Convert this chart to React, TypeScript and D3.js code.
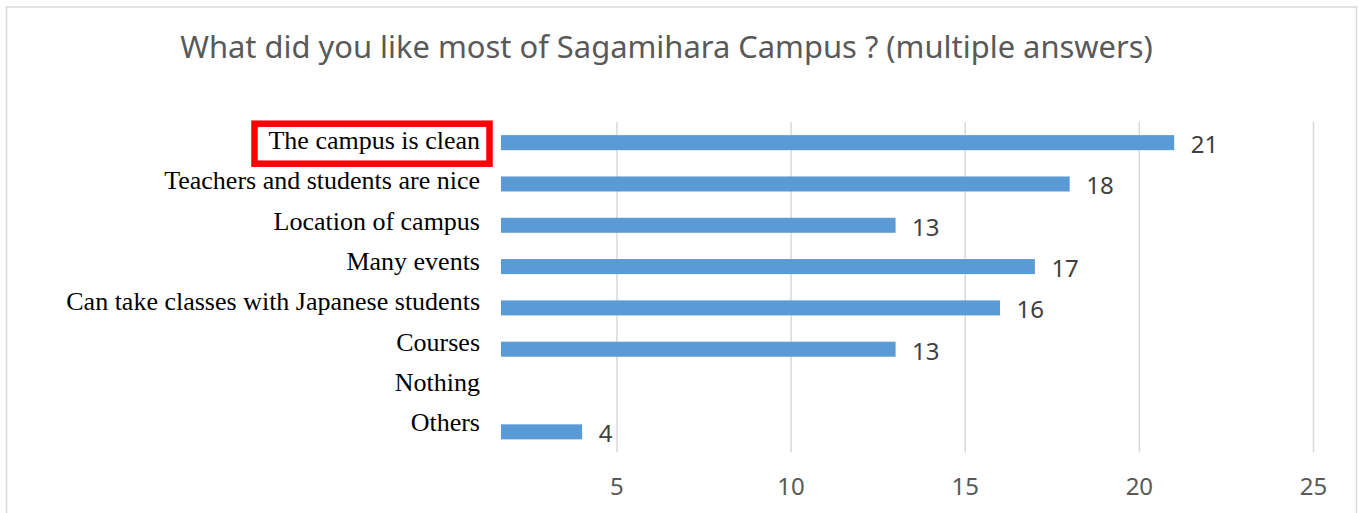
import React, { useEffect, useRef } from 'react';
import * as d3 from 'd3';

const W = 1359;
const H = 513;

const titleText = 'What did you like most of Sagamihara Campus ? (multiple answers)';
const categories = [
  'The campus is clean',
  'Teachers and students are nice',
  'Location of campus',
  'Many events',
  'Can take classes with Japanese students',
  'Courses',
  'Nothing',
  'Others'
];
const counts: (number | null)[] = [21, 18, 13, 17, 16, 13, null, 4];
const xTicks = [5, 10, 15, 20, 25];
const highlighted = 'The campus is clean';

const plot = { left: 501, right: 1313.5, top: 122, bottom: 452.5 };
const sans = '"Noto Sans", "DejaVu Sans", sans-serif';
const serif = '"Liberation Serif", "DejaVu Serif", serif';

export default function App() {
  const ref = useRef<SVGSVGElement>(null);

  useEffect(() => {
    const svg = d3.select(ref.current);
    svg.selectAll('*').remove();

    // chart frame (no bottom edge visible, runs past the picture)
    svg.append('rect')
      .attr('x', 6.5).attr('y', 7)
      .attr('width', 1350).attr('height', 540)
      .attr('fill', '#fff')
      .attr('stroke', '#d9d9d9').attr('stroke-width', 1.5);

    svg.append('text')
      .attr('x', 666.5).attr('y', 58)
      .attr('text-anchor', 'middle')
      .attr('font-family', sans)
      .attr('font-size', 30.9)
      .attr('fill', '#595959')
      .text(titleText);

    // axis min is not 0 in the original (bars start left of the 5 gridline)
    const x = d3.scaleLinear().domain([1.67, 25]).range([plot.left, plot.right]);
    const y = d3.scaleBand<string>()
      .domain(categories)
      .range([plot.top, plot.bottom])
      .paddingInner(0.636)
      .paddingOuter(0.318);
    // the category labels sit on a slightly tighter pitch than the bars
    const yLabel = d3.scalePoint<string>().domain(categories).range([140.3, 422.4]);

    const g = svg.append('g');

    g.selectAll('.grid').data(xTicks).enter().append('line')
      .attr('x1', d => x(d)).attr('x2', d => x(d))
      .attr('y1', plot.top).attr('y2', plot.bottom)
      .attr('stroke', '#d9d9d9').attr('stroke-width', 1.5);

    g.selectAll('.tick').data(xTicks).enter().append('text')
      .attr('x', d => x(d)).attr('y', 495)
      .attr('text-anchor', 'middle')
      .attr('font-family', sans).attr('font-size', 24)
      .attr('fill', '#595959')
      .text(d => d);

    const rows = categories.map((c, i) => ({ cat: c, v: counts[i] }));
    const withBars = rows.filter(d => d.v != null) as { cat: string; v: number }[];

    g.selectAll('.bar').data(withBars).enter().append('rect')
      .attr('x', x.range()[0])
      .attr('y', d => y(d.cat)!)
      .attr('width', d => x(d.v) - x.range()[0])
      .attr('height', y.bandwidth())
      .attr('fill', '#5b9bd5');

    g.selectAll('.val').data(withBars).enter().append('text')
      .attr('x', d => x(d.v) + 16.5)
      .attr('y', d => y(d.cat)! + y.bandwidth() / 2 + 10.5)
      .attr('font-family', sans).attr('font-size', 24)
      .attr('fill', '#404040')
      .text(d => d.v);

    g.selectAll('.cat').data(categories).enter().append('text')
      .attr('x', 480)
      .attr('y', d => yLabel(d)! + 8.7)
      .attr('text-anchor', 'end')
      .attr('font-family', serif).attr('font-size', 26)
      .attr('fill', '#000')
      .text(d => d);

    // red box around the highlighted answer
    const hy = yLabel(highlighted)!;
    svg.append('rect')
      .attr('x', 254.5).attr('y', hy - 16.6)
      .attr('width', 235).attr('height', 40)
      .attr('fill', 'none')
      .attr('stroke', '#ff0000').attr('stroke-width', 6.5);
  }, []);

  return (
    <div style={{ position: 'absolute', left: 0, top: 0 }}>
      <svg ref={ref} width={W} height={H} style={{ display: 'block' }} />
    </div>
  );
}
